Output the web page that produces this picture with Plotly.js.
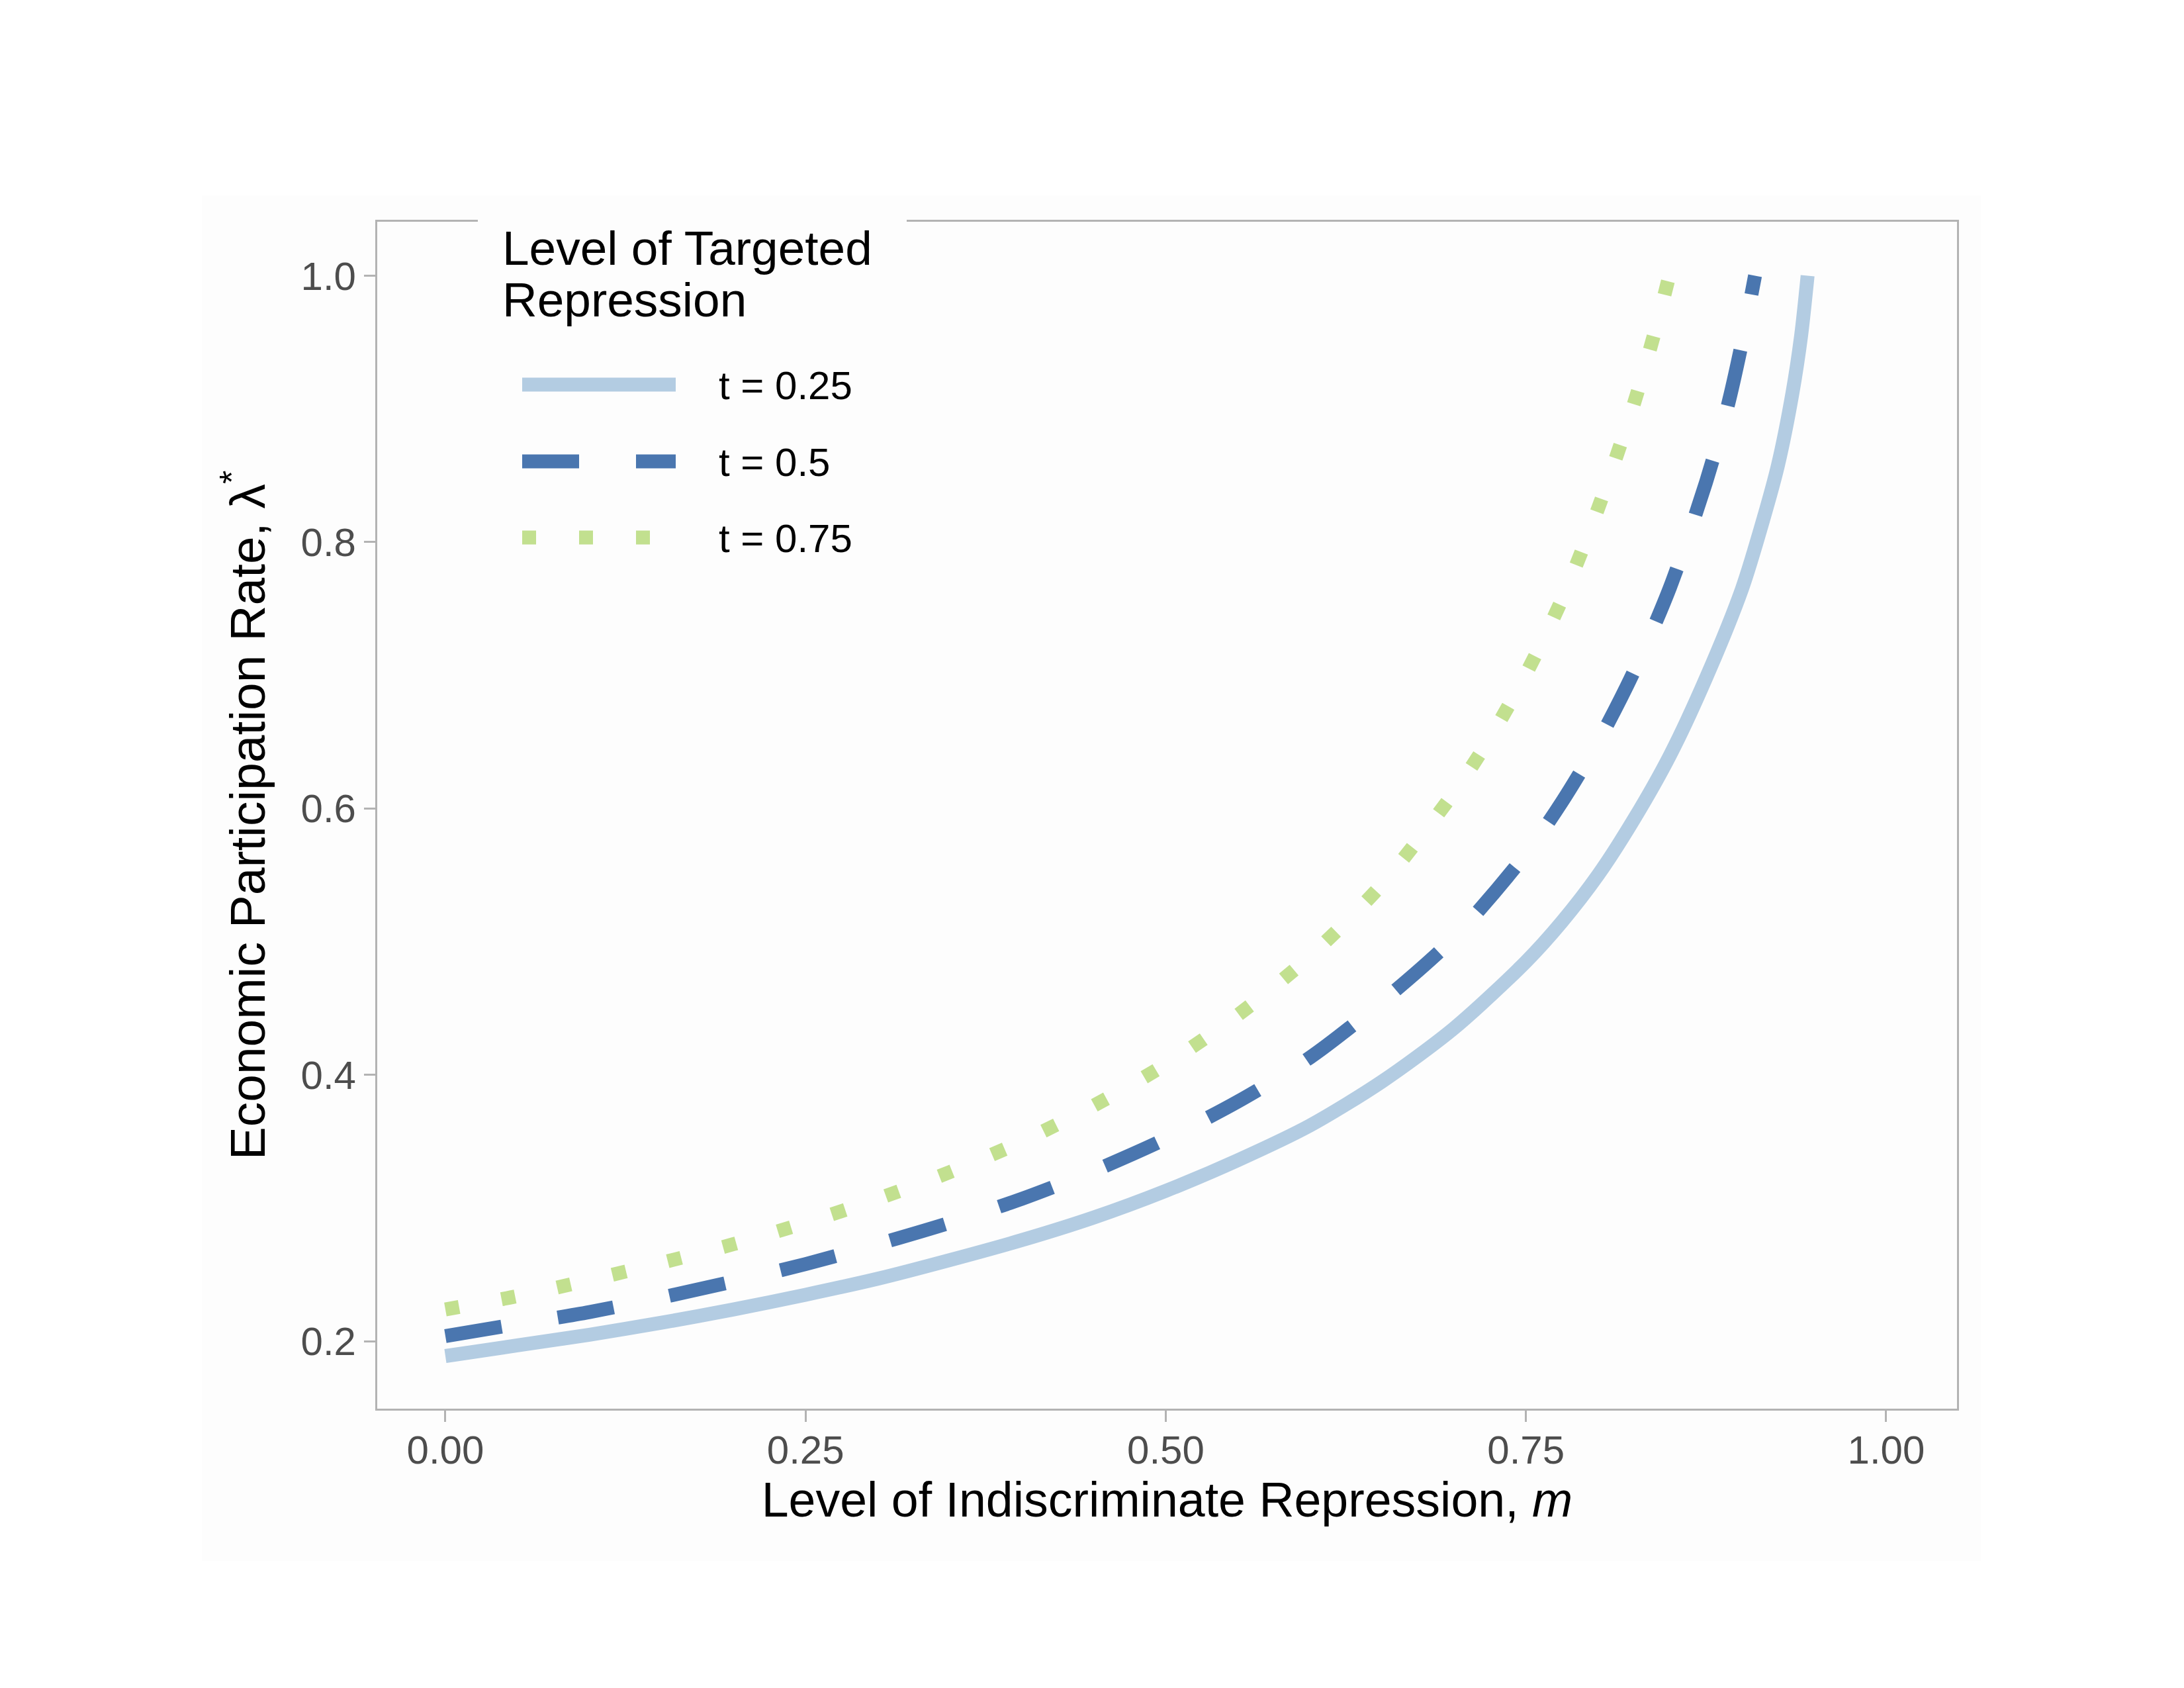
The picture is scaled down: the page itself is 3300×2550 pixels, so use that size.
<!DOCTYPE html>
<html>
<head>
<meta charset="utf-8">
<script src="https://cdn.plot.ly/plotly-3.0.1.min.js"></script>
<style>
html, body { margin: 0; padding: 0; background: #ffffff; }
#chart { width: 3300px; height: 2550px; }
</style>
</head>
<body>
<div id="chart"></div>
<script>
// ---------------- data ----------------
const seriesNames = ['t = 0.25', 't = 0.5', 't = 0.75'];

const m_t025 = [0, 0.05, 0.10, 0.15, 0.20, 0.25, 0.30, 0.35, 0.40, 0.45, 0.50, 0.55, 0.60, 0.65, 0.70, 0.75, 0.775, 0.80, 0.825, 0.85, 0.875, 0.90, 0.915, 0.925, 0.935, 0.941, 0.9455];
const lambda_t025 = [0.189, 0.197, 0.205, 0.214, 0.224, 0.235, 0.247, 0.261, 0.276, 0.293, 0.313, 0.336, 0.362, 0.395, 0.435, 0.485, 0.515, 0.550, 0.592, 0.640, 0.698, 0.765, 0.818, 0.858, 0.912, 0.955, 1.000];

const m_t050 = [0, 0.05, 0.10, 0.15, 0.20, 0.25, 0.30, 0.35, 0.40, 0.45, 0.50, 0.55, 0.60, 0.65, 0.70, 0.75, 0.775, 0.80, 0.825, 0.85, 0.875, 0.89, 0.90, 0.909];
const lambda_t050 = [0.204, 0.213, 0.222, 0.233, 0.245, 0.258, 0.273, 0.289, 0.307, 0.328, 0.352, 0.380, 0.413, 0.455, 0.503, 0.566, 0.605, 0.650, 0.703, 0.766, 0.845, 0.902, 0.950, 1.000];

const m_t075 = [0, 0.05, 0.10, 0.15, 0.20, 0.25, 0.30, 0.35, 0.40, 0.45, 0.50, 0.55, 0.60, 0.65, 0.70, 0.725, 0.75, 0.775, 0.80, 0.825, 0.84, 0.8495];
const lambda_t075 = [0.224, 0.234, 0.246, 0.259, 0.273, 0.289, 0.307, 0.327, 0.350, 0.377, 0.408, 0.445, 0.489, 0.543, 0.612, 0.653, 0.701, 0.757, 0.825, 0.904, 0.960, 1.000];

const xTickVals = [0, 0.25, 0.5, 0.75, 1.0];
const xTickText = ['0.00', '0.25', '0.50', '0.75', '1.00'];
const yTickVals = [0.2, 0.4, 0.6, 0.8, 1.0];
const yTickText = ['0.2', '0.4', '0.6', '0.8', '1.0'];

const xTitle = 'Level of Indiscriminate Repression, <i>m</i>';
const yTitle = 'Economic Participation Rate, λ<sup>*</sup>';
const legendTitle = ['Level of Targeted', 'Repression'];

// ---------------- styling ----------------
const FONT = 'Liberation Sans, Arial, Helvetica, sans-serif';
const colors = ['#b3cce2', '#4a76af', '#c2e08f'];
const dashes = ['solid', '86px,86px', '21px,65px'];
const LW = 21;
const BG = '#fdfdfd';

const W = 3300, H = 2550;
const L = 570, R = 2957, T = 335, B = 2128;   // panel edges in pixels
const px = X => (X - L) / (R - L);
const py = Y => (B - Y) / (B - T);

const xs = [m_t025, m_t050, m_t075];
const ys = [lambda_t025, lambda_t050, lambda_t075];

const traces = seriesNames.map((name, i) => ({
  type: 'scatter',
  mode: 'lines',
  name: name,
  x: xs[i],
  y: ys[i],
  line: { color: colors[i], width: LW, dash: dashes[i], shape: 'spline', smoothing: 0.8 },
  showlegend: false,
  hoverinfo: 'skip'
}));

// custom legend (long key samples like the original)
const legRowsY = [581, 697, 812];
const shapes = [
  { type: 'rect', xref: 'paper', yref: 'paper', layer: 'below',
    x0: px(305), x1: px(2993), y0: py(2358), y1: py(295),
    fillcolor: BG, line: { width: 0 } },
  { type: 'rect', xref: 'paper', yref: 'paper', layer: 'above',
    x0: px(722), x1: px(1370), y0: py(880), y1: py(300),
    fillcolor: BG, line: { width: 0 } }
];
seriesNames.forEach((name, i) => {
  shapes.push({ type: 'line', xref: 'paper', yref: 'paper', layer: 'above',
    x0: px(789), x1: px(1021), y0: py(legRowsY[i]), y1: py(legRowsY[i]),
    line: { color: colors[i], width: LW, dash: dashes[i] } });
});

const annotations = [
  { text: legendTitle[0], xref: 'paper', yref: 'paper', x: px(757), y: py(374), xanchor: 'left', yanchor: 'middle',
    showarrow: false, font: { family: FONT, size: 73, color: '#000000' } },
  { text: legendTitle[1], xref: 'paper', yref: 'paper', x: px(757), y: py(453), xanchor: 'left', yanchor: 'middle',
    showarrow: false, font: { family: FONT, size: 73, color: '#000000' } }
];
seriesNames.forEach((name, i) => {
  annotations.push({ text: name, xref: 'paper', yref: 'paper', x: px(1084), y: py(legRowsY[i] + 1),
    xanchor: 'left', yanchor: 'middle', showarrow: false,
    font: { family: FONT, size: 60, color: '#000000' } });
});

const axisCommon = {
  ticks: 'outside', ticklen: 17, tickwidth: 3, tickcolor: '#b3b3b3',
  showline: true, linecolor: '#b3b3b3', linewidth: 3, mirror: true,
  showgrid: false, zeroline: false, automargin: false,
  tickfont: { family: FONT, size: 60, color: '#4d4d4d' }
};

const layout = {
  width: W, height: H,
  margin: { l: L, r: W - R, t: T, b: H - B, pad: 0 },
  paper_bgcolor: '#ffffff',
  plot_bgcolor: BG,
  font: { family: FONT, color: '#000000' },
  showlegend: false,
  xaxis: Object.assign({}, axisCommon, {
    range: [-0.0473, 1.0492],
    tickmode: 'array', tickvals: xTickVals, ticktext: xTickText,
    ticklabelstandoff: -9,
    title: { text: xTitle, font: { family: FONT, size: 73.5, color: '#000000' }, standoff: 16 }
  }),
  yaxis: Object.assign({}, axisCommon, {
    range: [0.1495, 1.0405],
    tickmode: 'array', tickvals: yTickVals, ticktext: yTickText,
    title: { text: yTitle, font: { family: FONT, size: 75, color: '#000000' }, standoff: 30 }
  }),
  shapes: shapes,
  annotations: annotations
};

Plotly.newPlot('chart', traces, layout, { staticPlot: true, displayModeBar: false });
</script>
</body>
</html>
